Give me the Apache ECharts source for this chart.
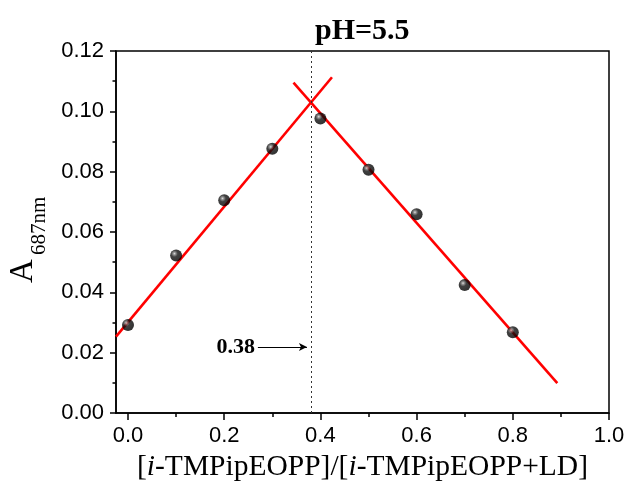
<!DOCTYPE html>
<html>
<head>
<meta charset="utf-8">
<script src="https://cdn.jsdelivr.net/npm/echarts@6/dist/echarts.min.js"></script>
<style>
  html, body { margin: 0; padding: 0; background: #fff; }
  #chart { width: 631px; height: 487px; }
</style>
</head>
<body>
<div id="chart"></div>
<script>
// Job plot data, pH 5.5
const ratio = [0, 0.1, 0.2, 0.3, 0.4, 0.5, 0.6, 0.7, 0.8];
const absorb = [0.0292, 0.0522, 0.0705, 0.0876, 0.0976, 0.0806, 0.0659, 0.0424, 0.0268];
// fitted lines (end points)
const fitUpX = [-0.025, 0.424];
const fitUpY = [0.0253, 0.1113];
const fitDownX = [0.344, 0.8925];
const fitDownY = [0.1095, 0.0099];
// crossing point and arrow
const jobX = 0.38;
const arrowX = [0.27, 0.372];
const arrowY = 0.0219;
// axis ticks
const xMajor = [0, 0.2, 0.4, 0.6, 0.8, 1.0];
const xMinor = [0.1, 0.3, 0.5, 0.7, 0.9];

const chart = echarts.init(document.getElementById('chart'));

const pairs = (xs, ys) => xs.map((x, i) => [x, ys[i]]);
const serif = 'Liberation Serif';
const sans = 'Liberation Sans';

chart.setOption({
    animation: false,
    backgroundColor: '#fff',
    title: {
        text: 'pH=5.5',
        left: 315,
        top: 16,
        padding: 0,
        textStyle: { fontFamily: serif, fontWeight: 'bold', fontSize: 30, color: '#000' }
    },
    grid: {
        left: 116, top: 51, right: 22, bottom: 74,
        show: true, borderColor: '#000', borderWidth: 1.5,
        backgroundColor: 'transparent'
    },
    xAxis: [{
        type: 'value',
        min: -0.025, max: 1.0,
        position: 'bottom',
        name: '[{i|i}-TMPipEOPP]/[{i|i}-TMPipEOPP+LD]',
        nameLocation: 'middle',
        nameGap: 37,
        nameTextStyle: {
            fontFamily: serif, fontSize: 29.5, color: '#000',
            rich: { i: { fontFamily: serif, fontSize: 29.5, fontStyle: 'italic', color: '#000' } }
        },
        axisLine: { onZero: false, lineStyle: { color: '#000', width: 1.5 } },
        axisTick: { inside: false, length: 7, customValues: xMajor, lineStyle: { color: '#000', width: 1.5 } },
        axisLabel: {
            customValues: xMajor, margin: 12,
            fontFamily: sans, fontSize: 22, color: '#000',
            formatter: v => v.toFixed(1)
        },
        splitLine: { show: false }
    }, {
        type: 'value',
        min: -0.025, max: 1.0,
        position: 'bottom',
        axisLine: { show: false, onZero: false },
        axisTick: { inside: false, length: 4, customValues: xMinor, lineStyle: { color: '#000', width: 1.5 } },
        axisLabel: { show: false },
        splitLine: { show: false }
    }],
    yAxis: {
        type: 'value',
        min: 0, max: 0.12, interval: 0.02,
        axisLine: { show: true, onZero: false, lineStyle: { color: '#000', width: 1.5 } },
        axisTick: { inside: false, length: 6, lineStyle: { color: '#000', width: 1.5 } },
        minorTick: { show: true, splitNumber: 2, length: 3.5, lineStyle: { color: '#000', width: 1.5 } },
        axisLabel: {
            margin: 12, fontFamily: sans, fontSize: 22, color: '#000',
            formatter: v => v.toFixed(2)
        },
        splitLine: { show: false }
    },
    graphic: [{
        type: 'group',
        x: 40, y: 283,
        rotation: Math.PI / 2,
        children: [{
            type: 'text', x: 0, y: 0,
            style: { text: 'A', fontFamily: serif, fontSize: 33, fill: '#000', align: 'left', verticalAlign: 'bottom' }
        }, {
            type: 'text', x: 28, y: 10,
            style: { text: '687nm', fontFamily: serif, fontSize: 21, fill: '#000', align: 'left', verticalAlign: 'bottom' }
        }]
    }],
    series: [{
        type: 'line',
        data: pairs(fitUpX, fitUpY),
        symbol: 'none',
        lineStyle: { color: '#ff0000', width: 2.6 },
        z: 2
    }, {
        type: 'line',
        data: pairs(fitDownX, fitDownY),
        symbol: 'none',
        lineStyle: { color: '#ff0000', width: 2.6 },
        z: 2,
        markLine: {
            silent: true,
            symbol: 'none',
            data: [
                {
                    xAxis: jobX,
                    lineStyle: { type: [2, 3], color: '#333', width: 1 },
                    label: { show: false }
                },
                [
                    {
                        coord: [arrowX[0], arrowY], symbol: 'none',
                        lineStyle: { type: 'solid', color: '#000', width: 1 },
                        label: {
                            show: true, position: 'start', formatter: '0.38', distance: 3,
                            fontFamily: serif, fontWeight: 'bold', fontSize: 22, color: '#000'
                        }
                    },
                    { coord: [arrowX[1], arrowY], symbol: 'arrow', symbolSize: [6, 8] }
                ]
            ]
        }
    }, {
        type: 'scatter',
        data: pairs(ratio, absorb),
        symbol: 'circle',
        symbolSize: 12,
        z: 5,
        itemStyle: {
            color: {
                type: 'radial', x: 0.36, y: 0.34, r: 0.66,
                colorStops: [
                    { offset: 0, color: '#d8d8d8' },
                    { offset: 0.16, color: '#7a7a7a' },
                    { offset: 0.42, color: '#111111' },
                    { offset: 1, color: '#000000' }
                ]
            }
        }
    }]
});
</script>
</body>
</html>
